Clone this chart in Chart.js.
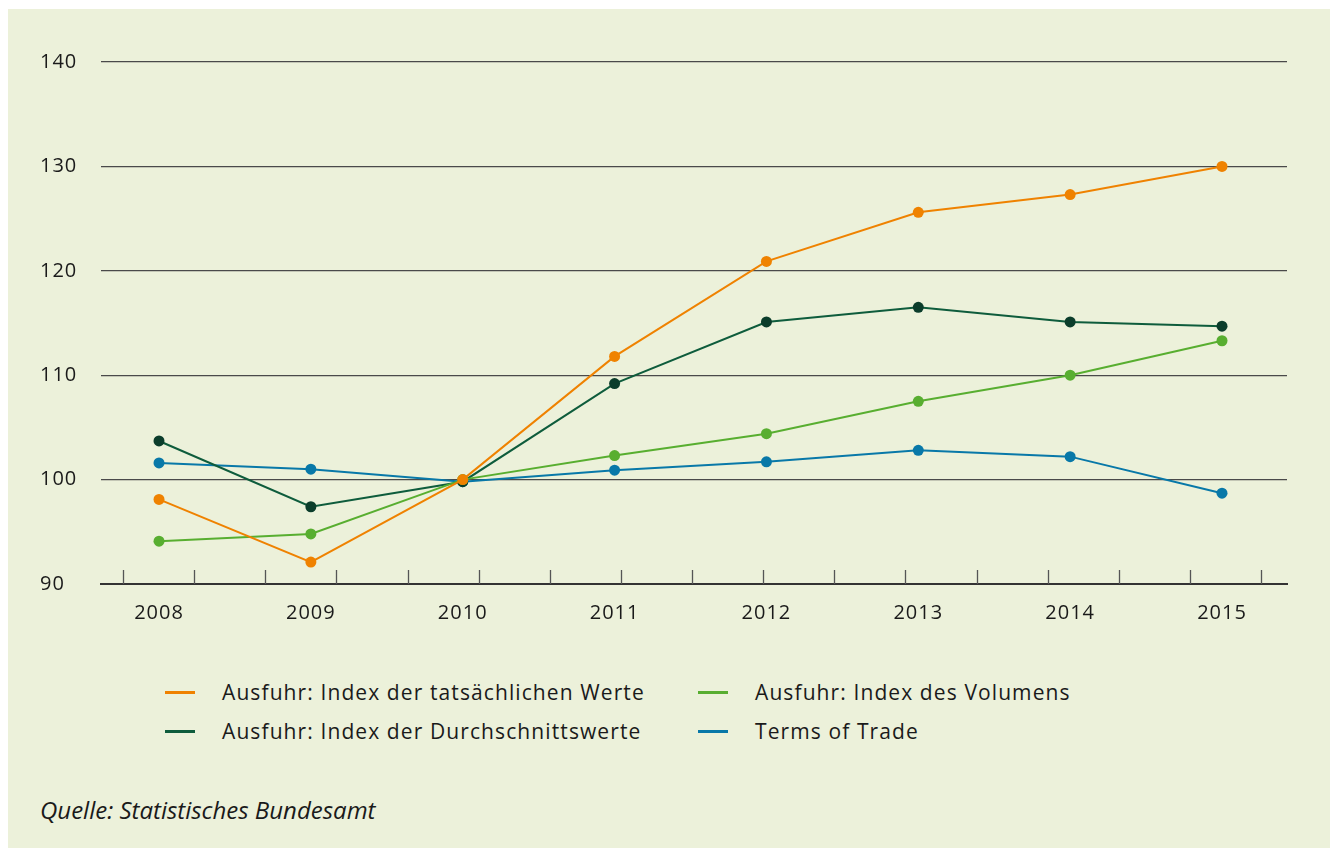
<!DOCTYPE html>
<html lang="de">
<head>
<meta charset="utf-8">
<script src="https://cdn.jsdelivr.net/npm/chart.js@4/dist/chart.umd.min.js"></script>
<style>
  html, body { margin: 0; padding: 0; background: #fff; }
  body { width: 1330px; height: 848px; position: relative; overflow: hidden; font-family: "Open Sans", sans-serif; color: #1a1a1a; }
  #panel { position: absolute; left: 8px; top: 9px; right: 0; bottom: 0; background: #ecf1da; }
  #chart { position: absolute; left: 0; top: 0; }
  .legend { position: absolute; left: 157px; top: 671px; display: grid; grid-template-columns: 533px auto; row-gap: 15px; }
  .item { display: flex; align-items: center; height: 24px; font-size: 21px; letter-spacing: 1.1px; line-height: 24px; }
  .swatch { width: 30px; height: 3px; margin-right: 27px; }
  .source { position: absolute; left: 32px; top: 787px; font-size: 24px; font-style: italic; line-height: 28px; }
</style>
</head>
<body>
<div id="panel">
  <canvas id="chart" width="1322" height="650"></canvas>
  <div class="legend" id="legend"></div>
  <div class="source">Quelle: Statistisches Bundesamt</div>
</div>
<script>
// Ausfuhr-Indizes, 2010 = 100
const years = [2008, 2009, 2010, 2011, 2012, 2013, 2014, 2015];

const tatsaechlicheWerte = [98.1, 92.1, 100.0, 111.8, 120.9, 125.6, 127.3, 130.0];
const volumen = [94.1, 94.8, 100.0, 102.3, 104.4, 107.5, 110.0, 113.3];
const durchschnittswerte = [103.7, 97.4, 99.8, 109.2, 115.1, 116.5, 115.1, 114.7];
const termsOfTrade = [101.6, 101.0, 99.8, 100.9, 101.7, 102.8, 102.2, 98.7];

const seriesNames = [
  'Ausfuhr: Index der tatsächlichen Werte',
  'Ausfuhr: Index des Volumens',
  'Ausfuhr: Index der Durchschnittswerte',
  'Terms of Trade'
];
const yTicks = [90, 100, 110, 120, 130, 140];

const lineColors = ['#ef8200', '#58ae30', '#0e5c3c', '#0878a8'];
const pointColors = ['#ef8200', '#58ae30', '#0b3d2b', '#0878a8'];

const allValues = [tatsaechlicheWerte, volumen, durchschnittswerte, termsOfTrade];

function makeDataset(i) {
  return {
    label: seriesNames[i],
    data: years.map((yr, k) => ({ x: yr, y: allValues[i][k] })),
    borderColor: lineColors[i],
    backgroundColor: pointColors[i],
    pointBackgroundColor: pointColors[i],
    pointBorderWidth: 0,
    pointRadius: 5.5,
    borderWidth: 2,
    tension: 0,
    order: i
  };
}

// small tick marks that stand up from the x axis
const minorTicks = {
  id: 'minorTicks',
  afterDraw(chart) {
    const xs = chart.scales.x;
    const ctx = chart.ctx;
    const bottom = chart.chartArea.bottom;
    ctx.save();
    ctx.strokeStyle = '#555';
    ctx.lineWidth = 1.3;
    for (let k = 0; k <= 16; k++) {
      const v = 2007.763 + k * 0.4684;
      const px = Math.round(xs.getPixelForValue(v)) + 0.5;
      ctx.beginPath();
      ctx.moveTo(px, bottom - 14);
      ctx.lineTo(px, bottom);
      ctx.stroke();
    }
    ctx.restore();
  }
};

const spacing = {
  id: 'spacing',
  beforeDraw(chart) {
    chart.ctx.letterSpacing = '1px';
  }
};

Chart.defaults.font.family = '"Open Sans", sans-serif';
Chart.defaults.font.size = 20;
Chart.defaults.color = '#1a1a1a';

new Chart(document.getElementById('chart'), {
  type: 'line',
  data: { datasets: [0, 1, 2, 3].map(makeDataset) },
  plugins: [spacing, minorTicks],
  options: {
    responsive: false,
    animation: false,
    devicePixelRatio: 1,
    layout: { padding: { left: 32, right: 43, top: 53, bottom: 30 } },
    plugins: {
      legend: { display: false },
      tooltip: { enabled: false }
    },
    scales: {
      x: {
        type: 'linear',
        min: 2007.618,
        max: 2015.428,
        afterBuildTicks: (scale) => { scale.ticks = years.map(v => ({ value: v })); },
        afterFit: (scale) => { scale.height = 45; },
        ticks: { padding: 17, maxRotation: 0, callback: (v) => String(v) },
        grid: { display: false, drawTicks: false },
        border: { display: true, color: '#333', width: 2 }
      },
      y: {
        min: 90,
        max: 140,
        afterBuildTicks: (scale) => { scale.ticks = yTicks.map(v => ({ value: v })); },
        afterFit: (scale) => { scale.width = 61; },
        ticks: { crossAlign: 'far', padding: 0 },
        grid: { color: '#4a4a4a', lineWidth: 1.2, drawTicks: false },
        border: { display: false }
      }
    }
  }
});

// legend: two columns, row by row
const legendOrder = [0, 1, 2, 3];
const legendEl = document.getElementById('legend');
legendOrder.forEach(i => {
  const item = document.createElement('div');
  item.className = 'item';
  const sw = document.createElement('span');
  sw.className = 'swatch';
  sw.style.background = lineColors[i];
  const txt = document.createElement('span');
  txt.textContent = seriesNames[i];
  item.appendChild(sw);
  item.appendChild(txt);
  legendEl.appendChild(item);
});
</script>
</body>
</html>
